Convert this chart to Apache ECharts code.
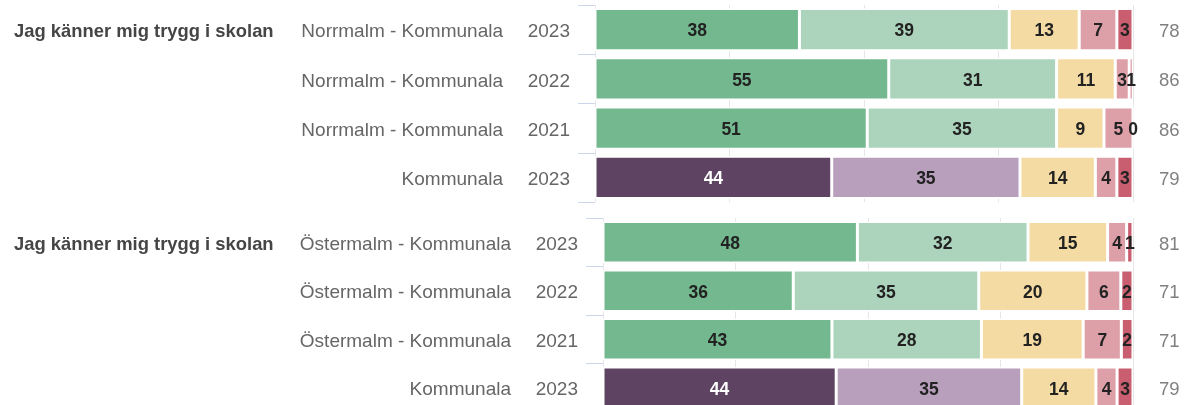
<!DOCTYPE html>
<html>
<head>
<meta charset="utf-8">
<script src="https://cdn.jsdelivr.net/npm/echarts@6/dist/echarts.min.js"></script>
<style>
html,body{margin:0;padding:0;background:#fff;}
#chart{width:1188px;height:405px;}
</style>
</head>
<body>
<div id="chart"></div>
<script>
// ---------- data ----------
const question = 'Jag känner mig trygg i skolan';
const seriesNames = ['Stämmer helt och hållet', 'Stämmer ganska bra', 'Varken eller', 'Stämmer ganska dåligt', 'Stämmer inte alls'];

// top panel
const groupsTop = ['Norrmalm - Kommunala', 'Norrmalm - Kommunala', 'Norrmalm - Kommunala', 'Kommunala'];
const yearsTop = ['2023', '2022', '2021', '2023'];
const nTop = ['78', '86', '86', '79'];
const topS1 = [38, 54.6, 50.6, 44];
const topS2 = [39, 31.2, 35.2, 35];
const topS3 = [13, 10.9, 8.8, 14];
const topS4 = [7, 2.6, 5.4, 4];
const topS5 = [3, 0.7, 0, 3];

// bottom panel
const groupsBottom = ['Östermalm - Kommunala', 'Östermalm - Kommunala', 'Östermalm - Kommunala', 'Kommunala'];
const yearsBottom = ['2023', '2022', '2021', '2023'];
const nBottom = ['81', '71', '71', '79'];
const botS1 = [48, 35.9, 43.2, 44];
const botS2 = [32.2, 35.0, 28.2, 35];
const botS3 = [15.0, 20.4, 19.2, 14];
const botS4 = [3.6, 6.4, 7.2, 4];
const botS5 = [1.2, 2.3, 2.2, 3];

// ---------- styling ----------
const FONT = '"Liberation Sans", Arial, Helvetica, sans-serif';
const greenColors = ['#74b88f', '#acd4bc', '#f4dba3', '#dda0a8', '#c85e6f'];
const purpleColors = ['#5e4462', '#b89fbb', '#f4dba3', '#dda0a8', '#c85e6f'];

function leftAxis(gridIndex, groups, years, qWidth) {
  return {
    type: 'category', gridIndex: gridIndex, inverse: true, position: 'left',
    data: groups.map((g, i) => g + ' ' + years[i]),
    axisLine: { show: false },
    axisTick: { show: true, length: 17, lineStyle: { color: '#ccd6eb', width: 1 } },
    splitLine: { show: false },
    axisLabel: {
      margin: 25, align: 'right', padding: [5, 0, 0, 0],
      formatter: function (v, idx) {
        const base = '{g|' + groups[idx] + '}{y|' + years[idx] + '}';
        return idx === 0 ? '{q|' + question + '}' + base : base;
      },
      rich: {
        q: { width: qWidth, align: 'left', fontWeight: 'bold', color: '#454545', fontSize: 18.4, fontFamily: FONT },
        g: { width: 215, align: 'right', color: '#666666', fontSize: 19, fontFamily: FONT },
        y: { width: 67, align: 'right', color: '#666666', fontSize: 19, fontFamily: FONT }
      }
    }
  };
}
function rightAxis(gridIndex, nvals) {
  return {
    type: 'category', gridIndex: gridIndex, inverse: true, position: 'right',
    data: nvals,
    axisLine: { show: false }, axisTick: { show: false }, splitLine: { show: false },
    axisLabel: {
      margin: 26, align: 'left', padding: [5, 0, 0, 0],
      formatter: v => '{n|' + v + '}',
      rich: { n: { color: '#808080', fontSize: 18.5, fontFamily: FONT } }
    }
  };
}
function xAxis(gridIndex) {
  return {
    type: 'value', gridIndex: gridIndex, min: 0, max: 100, interval: 25,
    axisLine: { show: false }, axisTick: { show: false }, axisLabel: { show: false },
    splitLine: { show: true, lineStyle: { color: '#e6e6e6', width: 1 } }
  };
}
function makeSeries(axisIdx, groups, arrays) {
  return arrays.map((arr, s) => ({
    name: seriesNames[s],
    type: 'bar', stack: 'panel' + axisIdx,
    xAxisIndex: axisIdx, yAxisIndex: axisIdx * 2,
    barCategoryGap: '14%',
    itemStyle: { borderColor: '#ffffff', borderWidth: 1.5 },
    data: arr.map((v, i) => {
      const isRef = groups[i] === 'Kommunala';
      const col = (isRef ? purpleColors : greenColors)[s];
      return {
        value: v,
        itemStyle: { color: col },
        label: { color: (isRef && s === 0) ? '#ffffff' : '#222222' }
      };
    }),
    label: {
      show: true, position: 'inside', offset: [0, 2],
      fontFamily: FONT, fontSize: 17.5, fontWeight: 'bold',
      formatter: p => String(Math.round(p.value))
    },
    emphasis: { disabled: true }
  }));
}

const chart = echarts.init(document.getElementById('chart'), null, { renderer: 'canvas' });
chart.setOption({
  animation: false,
  backgroundColor: '#ffffff',
  grid: [
    { left: 595, right: 55, top: 5, height: 197, outerBoundsMode: 'none', containLabel: false },
    { left: 603, right: 55, top: 218, height: 194, outerBoundsMode: 'none', containLabel: false }
  ],
  xAxis: [xAxis(0), xAxis(1)],
  yAxis: [
    leftAxis(0, groupsTop, yearsTop, 274), rightAxis(0, nTop),
    leftAxis(1, groupsBottom, yearsBottom, 282), rightAxis(1, nBottom)
  ],
  series: [
    ...makeSeries(0, groupsTop, [topS1, topS2, topS3, topS4, topS5]),
    ...makeSeries(1, groupsBottom, [botS1, botS2, botS3, botS4, botS5])
  ]
});
</script>
</body>
</html>
